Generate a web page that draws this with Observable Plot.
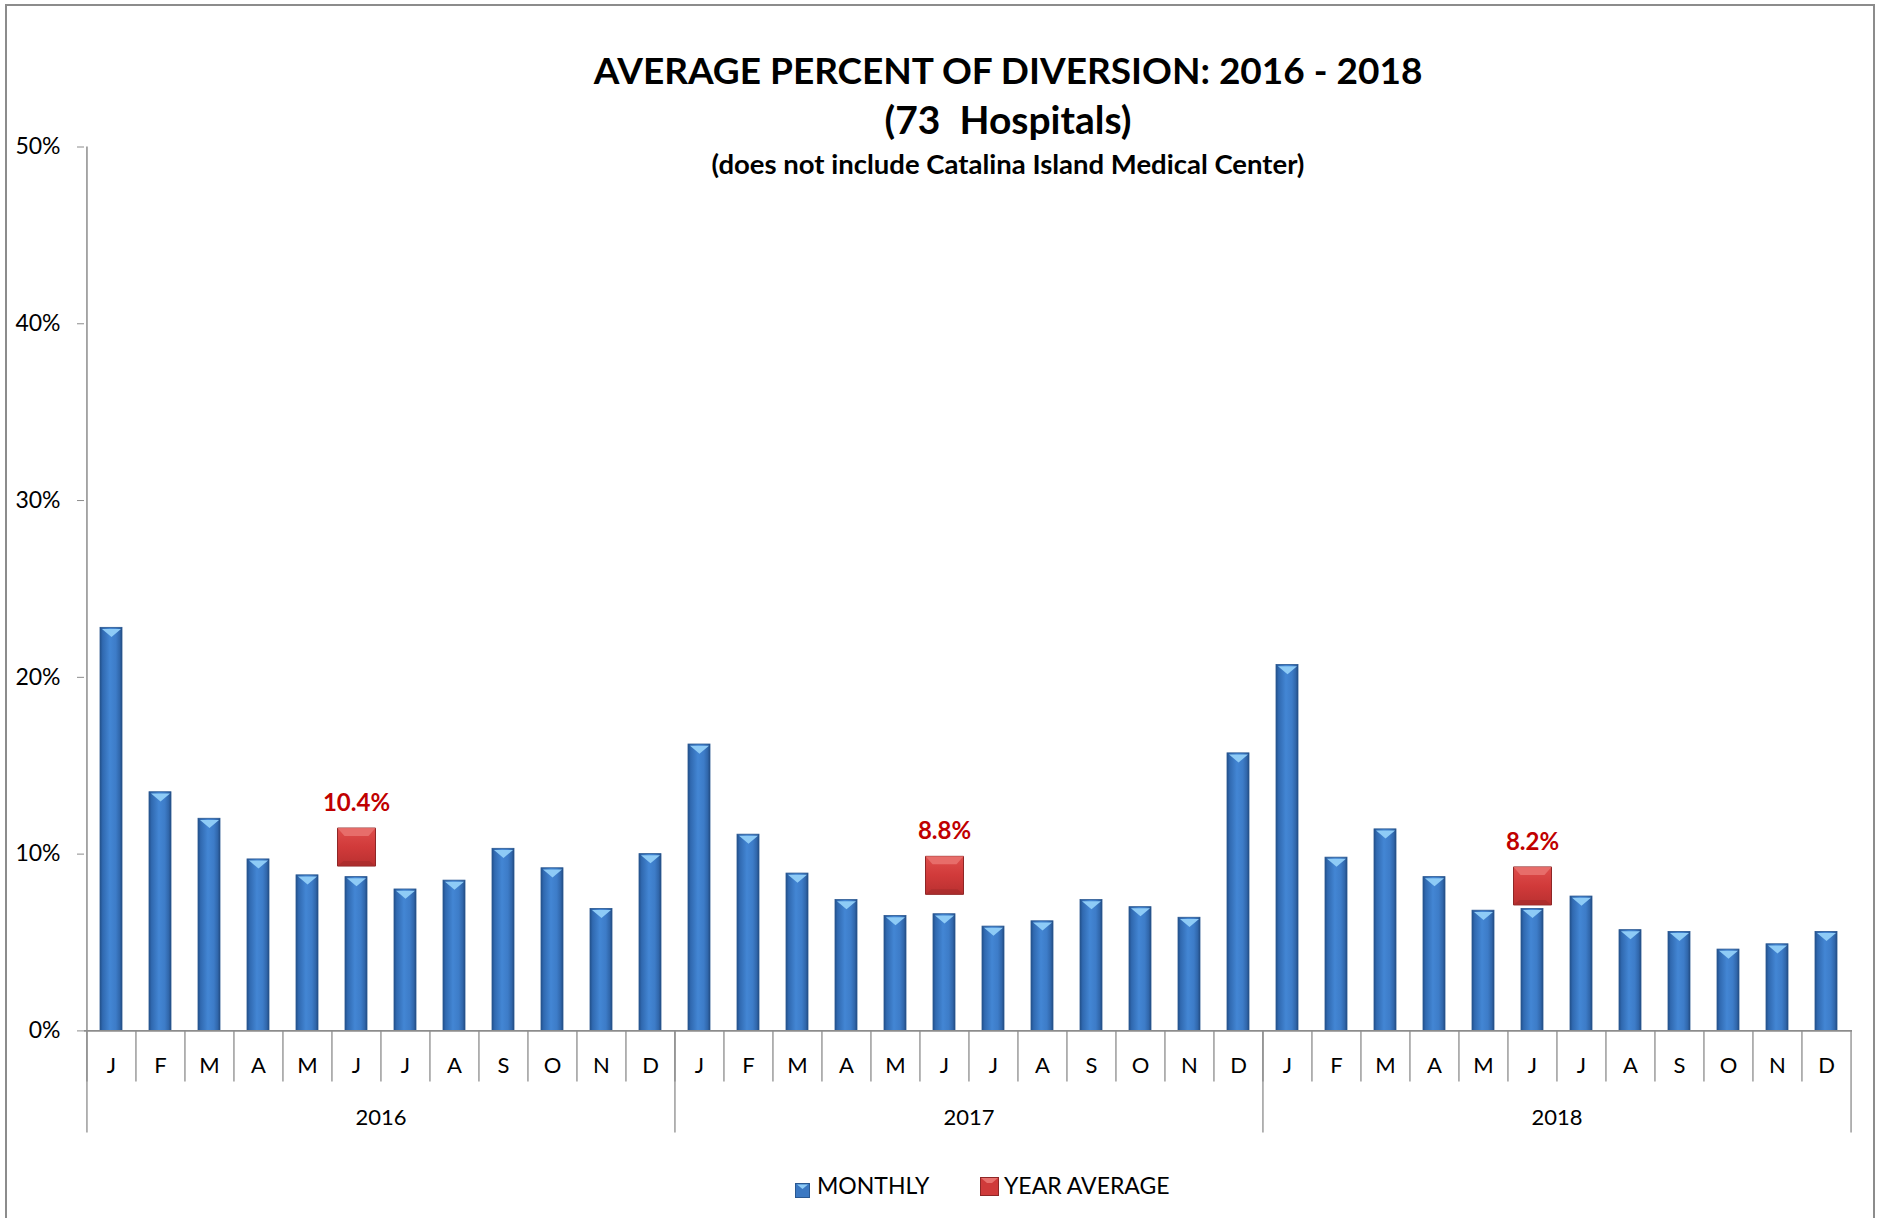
<!DOCTYPE html>
<html>
<head>
<meta charset="utf-8">
<script src="https://cdn.jsdelivr.net/npm/d3@7"></script>
<script src="https://cdn.jsdelivr.net/npm/@observablehq/plot@0.6"></script>
<style>
  html, body { margin: 0; padding: 0; background: #fff; overflow: hidden; }
  #wrap { position: relative; width: 1883px; height: 1218px; font-family: Lato, "Open Sans", sans-serif; }
  #border { position: absolute; left: 5px; top: 4px; width: 1870px; height: 1260px; border: 2px solid #8c8c8c; box-sizing: border-box; }
  .ttl { position: absolute; left: 508px; width: 1000px; text-align: center; font-weight: bold; color: #000; line-height: 1.2; white-space: pre; }
  #chart { position: absolute; left: 0; top: 0; }
  .leg { position: absolute; font-size: 23px; line-height: 1; color: #000; }
</style>
</head>
<body>
<div id="wrap">
  <div id="border"></div>
  <div id="chart"></div>
  <div class="ttl" id="t1" style="font-size:37px; top:47.5px;">AVERAGE PERCENT OF DIVERSION: 2016 - 2018</div>
  <div class="ttl" id="t2" style="font-size:39px; top:95.5px;">(73  Hospitals)</div>
  <div class="ttl" id="t3" style="font-size:27.5px; top:147px;">(does not include Catalina Island Medical Center)</div>
  <div id="legend"></div>
</div>
<script>
// ---- data ----
const years = [2016, 2017, 2018];
const monthLetters = ["J", "F", "M", "A", "M", "J", "J", "A", "S", "O", "N", "D"];
const monthly2016 = [22.8, 13.5, 12.0, 9.7, 8.8, 8.7, 8.0, 8.5, 10.3, 9.2, 6.9, 10.0];
const monthly2017 = [16.2, 11.1, 8.9, 7.4, 6.5, 6.6, 5.9, 6.2, 7.4, 7.0, 6.4, 15.7];
const monthly2018 = [20.7, 9.8, 11.4, 8.7, 6.8, 6.9, 7.6, 5.7, 5.6, 4.6, 4.9, 5.6];
const yearAverage = [10.4, 8.8, 8.2];
const yTicks = [0, 10, 20, 30, 40, 50];
const seriesNames = ["MONTHLY", "YEAR AVERAGE"];

// ---- build tables ----
const series = [monthly2016, monthly2017, monthly2018];
const monthly = years.flatMap((yr, yi) =>
  monthLetters.map((m, mi) => ({ key: `${yr}-${mi}`, letter: m, value: series[yi][mi] })));
const keys = monthly.map(d => d.key);
const letterOf = new Map(monthly.map(d => [d.key, d.letter]));
const avgData = years.map((yr, yi) => ({ key: `${yr}-5`, year: yr, value: yearAverage[yi], label: yearAverage[yi].toFixed(1) + "%" }));
const yearData = years.map(yr => ({ key: `${yr}-5`, year: String(yr) }));

// ---- layout ----
const W = 1883, H = 1150;
const mL = 84, mR = 31, mT = 146.5, mB = 119.6;
const step = (W - mL - mR) / keys.length;
const gray = "#8c8c8c";

// custom symbols
const flatTri = { draw(ctx) { ctx.moveTo(-9.5, 0); ctx.lineTo(9.5, 0); ctx.lineTo(0, 8); ctx.closePath(); } };
const sq = s => ({ draw(ctx) { ctx.moveTo(-s, -s); ctx.lineTo(s, -s); ctx.lineTo(s, s); ctx.lineTo(-s, s); ctx.closePath(); } });
const bevelTop = { draw(ctx) { ctx.moveTo(-19, -19); ctx.lineTo(19, -19); ctx.lineTo(12, -11); ctx.lineTo(-12, -11); ctx.closePath(); } };
const bevelBot = { draw(ctx) { ctx.moveTo(-19, 19); ctx.lineTo(19, 19); ctx.lineTo(13, 14); ctx.lineTo(-13, 14); ctx.closePath(); } };

const svg = Plot.plot({
  width: W, height: H,
  marginLeft: mL, marginRight: mR, marginTop: mT, marginBottom: mB,
  style: { fontFamily: "Lato, 'Open Sans', sans-serif", fontSize: "22px", background: "transparent", color: "#000" },
  x: { type: "band", domain: keys, paddingInner: 0.56, paddingOuter: 0.28, label: null },
  y: { domain: [0, 50], label: null },
  marks: [
    // y axis
    Plot.axisY({ ticks: yTicks, tickSize: 7, tickPadding: 17, tickFormat: d => d + "%", stroke: gray, fill: "#000", fontSize: 23, label: null }),
    Plot.ruleX([keys[0]], { dx: -step / 2, stroke: gray, strokeWidth: 1.5 }),
    // month separators
    Plot.axisX(keys, { tickSize: 51, dx: -step / 2, stroke: gray, strokeWidth: 1.3, fill: "none", label: null }),
    // year separators
    Plot.axisX([keys[0], keys[12], keys[24]], { tickSize: 102, dx: -step / 2, stroke: gray, strokeWidth: 1.3, fill: "none", label: null }),
    Plot.axisX([keys[35]], { tickSize: 102, dx: step / 2, stroke: gray, strokeWidth: 1.3, fill: "none", label: null }),
    // month letters
    Plot.axisX({ tickSize: 0, tickPadding: 26, tickFormat: k => letterOf.get(k), fill: "#000", fontSize: 22, label: null }),
    // year labels
    Plot.text(yearData, { x: "key", text: "year", dx: step / 2, frameAnchor: "bottom", dy: 94, fontSize: 22, fill: "#000" }),
    // bars
    Plot.barY(monthly, { x: "key", y: "value", fill: "url(#barGrad)", stroke: "#2a5891", strokeWidth: 0.8, ariaLabel: "monthly-bars" }),
    Plot.dot(monthly, { x: "key", y: "value", symbol: flatTri, r: 5, fill: "#8ecbf6", stroke: "none", dy: 1.2 }),
    // zero line
    Plot.ruleY([0], { stroke: gray, strokeWidth: 1.6 }),
    // year averages
    Plot.dot(avgData, { x: "key", y: "value", symbol: sq(19), r: 5, fill: "url(#redGrad)", stroke: "#8e2626", strokeWidth: 1, ariaLabel: "avg-square" }),
    Plot.dot(avgData, { x: "key", y: "value", symbol: bevelTop, r: 5, fill: "#e8716e", stroke: "none", fillOpacity: 0.9 }),
    Plot.dot(avgData, { x: "key", y: "value", symbol: bevelBot, r: 5, fill: "#a62c2c", stroke: "none", fillOpacity: 0.7 }),
    Plot.text(avgData, { x: "key", y: "value", text: "label", dy: -44, fill: "#c00000", fontWeight: "bold", fontSize: 24 })
  ]
});

// gradients + shadows
const defs = d3.select(svg).insert("defs", ":first-child");
const bg = defs.append("linearGradient").attr("id", "barGrad").attr("x1", 0).attr("x2", 1).attr("y1", 0).attr("y2", 0);
[[0, "#22508c"], [0.12, "#3069b0"], [0.45, "#4386d4"], [0.72, "#3d7cc8"], [0.9, "#3066aa"], [1, "#224a80"]]
  .forEach(([o, c]) => bg.append("stop").attr("offset", o).attr("stop-color", c));
const rg = defs.append("linearGradient").attr("id", "redGrad").attr("x1", 0).attr("x2", 0).attr("y1", 0).attr("y2", 1);
[[0, "#de4e4c"], [0.5, "#d13a3a"], [1, "#b93030"]]
  .forEach(([o, c]) => rg.append("stop").attr("offset", o).attr("stop-color", c));
d3.select(svg).selectAll('g[aria-label="monthly-bars"]').style("filter", "drop-shadow(1.5px 1px 1.5px rgba(0,0,0,0.3))");
d3.select(svg).selectAll('g[aria-label="avg-square"]').style("filter", "drop-shadow(0px 3px 3px rgba(0,0,0,0.35))");

document.getElementById("chart").appendChild(svg);

// legend
const leg = document.getElementById("legend");
const legItems = [
  { name: seriesNames[0], swX: 795, swY: 1178, txtX: 817, svg: `<svg width="15" height="15"><rect x="0.5" y="0.5" width="14" height="14" fill="#3b78c2" stroke="#2a5891"/><path d="M2,1.5 L13,1.5 L7.5,6 Z" fill="#8ecbf6"/></svg>` },
  { name: seriesNames[1], swX: 980, swY: 1176, txtX: 1004, svg: `<svg width="19" height="19"><rect x="0.5" y="0.5" width="18" height="18" fill="#cf3a3a" stroke="#8e2626"/><path d="M1,1 L18,1 L12,6 L7,6 Z" fill="#e8716e"/></svg>` }
];
legItems.forEach(it => {
  const s = document.createElement("div");
  s.className = "leg"; s.style.left = it.swX + "px"; s.style.top = it.swY + "px"; s.innerHTML = it.svg;
  leg.appendChild(s);
  const t = document.createElement("div");
  t.className = "leg"; t.style.left = it.txtX + "px"; t.style.top = "1174px"; t.textContent = it.name;
  leg.appendChild(t);
});
</script>
</body>
</html>
